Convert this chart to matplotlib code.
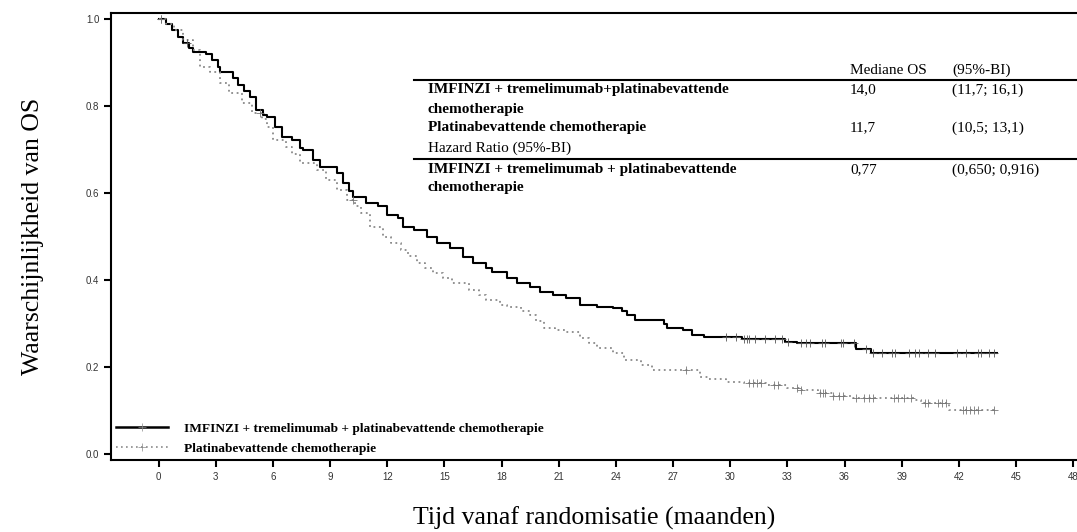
import numpy as np
import matplotlib
matplotlib.use("Agg")
import matplotlib.pyplot as plt
from matplotlib.lines import Line2D

# Kaplan-Meier step points (time in months, survival probability)
combo_t = [0, 0.4, 0.7, 1.0, 1.3, 1.6, 1.8, 2.5, 2.8, 3.1, 3.2, 3.9, 4.15, 4.5, 4.8,
           5.1, 5.5, 5.7, 6.1, 6.5, 7.0, 7.4, 7.6, 8.1, 8.45, 9.35, 9.7, 10.0, 10.2,
           10.9, 11.5, 12.0, 12.55, 12.8, 13.4, 14.1, 14.6, 15.3, 16.0, 16.5, 17.2,
           17.5, 18.3, 18.8, 19.5, 20.0, 20.7, 21.4, 22.1, 23.0, 23.85, 24.3, 24.6,
           25.0, 26.5, 26.7, 27.5, 28.0, 28.6, 30.6, 32.9, 33.5, 36.6, 37.4, 44.0]
combo_s = [1.0, 0.99, 0.975, 0.96, 0.945, 0.935, 0.925, 0.92, 0.906, 0.89, 0.879,
           0.865, 0.849, 0.835, 0.821, 0.791, 0.78, 0.775, 0.752, 0.729, 0.722, 0.705,
           0.699, 0.676, 0.660, 0.646, 0.623, 0.605, 0.591, 0.577, 0.570, 0.550, 0.543,
           0.522, 0.515, 0.499, 0.485, 0.474, 0.453, 0.439, 0.428, 0.419, 0.405, 0.393,
           0.384, 0.373, 0.366, 0.359, 0.343, 0.338, 0.336, 0.328, 0.320, 0.308, 0.300,
           0.290, 0.285, 0.274, 0.269, 0.264, 0.258, 0.255, 0.241, 0.232, 0.232]

chemo_t = [0, 0.4, 0.8, 1.26, 1.8, 2.15, 2.7, 3.2, 3.7, 4.4, 4.9, 5.4, 5.7, 6.0, 6.7,
           7.0, 7.4, 8.3, 8.8, 9.35, 9.9, 10.3, 10.6, 11.1, 11.8, 12.2, 12.7, 13.1,
           13.55, 14.0, 14.4, 14.9, 15.4, 16.3, 16.8, 17.2, 17.9, 18.3, 19.0, 19.5,
           19.8, 20.2, 20.8, 21.4, 22.1, 22.6, 23.0, 23.85, 24.4, 25.3, 25.9, 28.4,
           28.9, 29.8, 30.7, 31.9, 33.0, 33.7, 34.6, 35.4, 36.4, 39.7, 40.0, 41.5, 44.0]
chemo_s = [1.0, 0.99, 0.975, 0.952, 0.929, 0.89, 0.879, 0.853, 0.830, 0.807, 0.784,
           0.77, 0.752, 0.722, 0.706, 0.69, 0.669, 0.653, 0.630, 0.607, 0.584, 0.570,
           0.554, 0.522, 0.499, 0.485, 0.469, 0.455, 0.439, 0.428, 0.416, 0.405, 0.393,
           0.377, 0.365, 0.354, 0.343, 0.338, 0.328, 0.320, 0.305, 0.290, 0.286, 0.281,
           0.267, 0.255, 0.244, 0.232, 0.216, 0.205, 0.193, 0.177, 0.172, 0.166, 0.163,
           0.159, 0.152, 0.147, 0.140, 0.133, 0.129, 0.124, 0.117, 0.101, 0.101]

# censoring times
combo_cens = [0.1, 1.5, 29.8, 30.3, 30.7, 30.9, 31.0, 31.3, 31.8, 32.35, 32.7, 33.05,
              33.7, 34.0, 34.2, 34.8, 35.0, 35.8, 35.9, 36.5, 37.1, 37.5, 37.96, 38.5,
              38.65, 39.4, 39.7, 39.9, 40.4, 40.75, 41.9, 42.4, 43.0, 43.15, 43.6, 43.85]
chemo_cens = [0.1, 5.3, 10.2, 27.7, 31.0, 31.2, 31.4, 31.6, 32.3, 32.5, 33.5, 33.7,
              34.7, 34.85, 35.0, 35.4, 35.7, 35.9, 36.6, 37.0, 37.3, 37.5, 38.6, 38.8,
              39.1, 39.5, 40.2, 40.4, 40.9, 41.1, 41.3, 42.2, 42.4, 42.6, 42.8, 43.0, 43.85]

xticks = list(range(0, 49, 3))
yticks = [0.0, 0.2, 0.4, 0.6, 0.8, 1.0]

label_combo = "IMFINZI + tremelimumab + platinabevattende chemotherapie"
label_chemo = "Platinabevattende chemotherapie"

W, H = 1077, 532
fig = plt.figure(figsize=(W / 100, H / 100), dpi=100)
ax = fig.add_axes([111 / W, (H - 460) / H, (W - 111) / W, (460 - 13) / H])


def surv_at(t_steps, s_steps, times):
    idx = np.searchsorted(t_steps, times, side="right") - 1
    return np.array(s_steps)[idx]


ax.plot(combo_t, combo_s, drawstyle="steps-post", color="black", lw=1.5)
ax.plot(chemo_t, chemo_s, drawstyle="steps-post", color="#8a8a8a", lw=1.3,
        linestyle=(0, (1, 2)))
ax.plot(combo_cens, surv_at(combo_t, combo_s, combo_cens), "+", color="#555555",
        ms=6, mew=0.6)
ax.plot(chemo_cens, surv_at(chemo_t, chemo_s, chemo_cens), "+", color="#777777",
        ms=6, mew=0.6)

ax.set_xlim(-2.5, 48.2)
ax.set_ylim(-0.0138, 1.0145)
ax.set_xticks(xticks)
ax.set_yticks(yticks)
ax.set_yticklabels([f"{v:.1f}" for v in yticks])
ax.spines["right"].set_visible(False)
for s in ["left", "top", "bottom"]:
    ax.spines[s].set_linewidth(1.5)
ax.tick_params(width=1.5, length=5, labelsize=7, labelcolor="#333333")
for lab in ax.get_xticklabels() + ax.get_yticklabels():
    lab.set_family("Liberation Sans")

serif = "Liberation Serif"
ax.set_ylabel("Waarschijnlijkheid van OS", family=serif, fontsize=18.5, labelpad=30)
ax.set_xlabel("Tijd vanaf randomisatie (maanden)", family=serif, fontsize=18.5,
              labelpad=18)

# legend
handles = [Line2D([0, 0.5, 1], [0, 0, 0], color="black", lw=1.8, marker="+", ms=6,
                  mew=0.5, markevery=[1], markeredgecolor="#888888"),
           Line2D([0, 0.5, 1], [0, 0, 0], color="#8a8a8a", lw=1.2,
                  linestyle=(0, (1, 2)), marker="+", ms=6, mew=0.5, markevery=[1])]
ax.legend(handles, [label_combo, label_chemo], loc="lower left",
          bbox_to_anchor=(0.0, 0.0), frameon=False, handlelength=3.9,
          handletextpad=1.2, labelspacing=0.55, borderaxespad=0.0,
          prop={"family": serif, "weight": "bold", "size": 9.6})


# table in figure pixel coordinates
def ftext(x, y, s, bold=False):
    fig.text(x / W, 1 - y / H, s, family=serif, fontsize=11,
             weight="bold" if bold else "normal", va="center", ha="left")


def fline(y):
    fig.add_artist(Line2D([414 / W, 1.0], [1 - y / H, 1 - y / H], color="black",
                          lw=1.5))


ftext(850, 70, "Mediane OS")
ftext(952, 70, "(95%-BI)")
fline(80)
ftext(428, 90, "IMFINZI + tremelimumab+platinabevattende", bold=True)
ftext(428, 109, "chemotherapie", bold=True)
ftext(850, 90, "14,0")
ftext(952, 90, "(11,7; 16,1)")
ftext(428, 128, "Platinabevattende chemotherapie", bold=True)
ftext(850, 128, "11,7")
ftext(952, 128, "(10,5; 13,1)")
ftext(428, 148, "Hazard Ratio (95%-BI)")
fline(159)
ftext(428, 170, "IMFINZI + tremelimumab + platinabevattende", bold=True)
ftext(428, 188, "chemotherapie", bold=True)
ftext(850, 170, "0,77")
ftext(952, 170, "(0,650; 0,916)")

fig.savefig("out.png", dpi=100)
